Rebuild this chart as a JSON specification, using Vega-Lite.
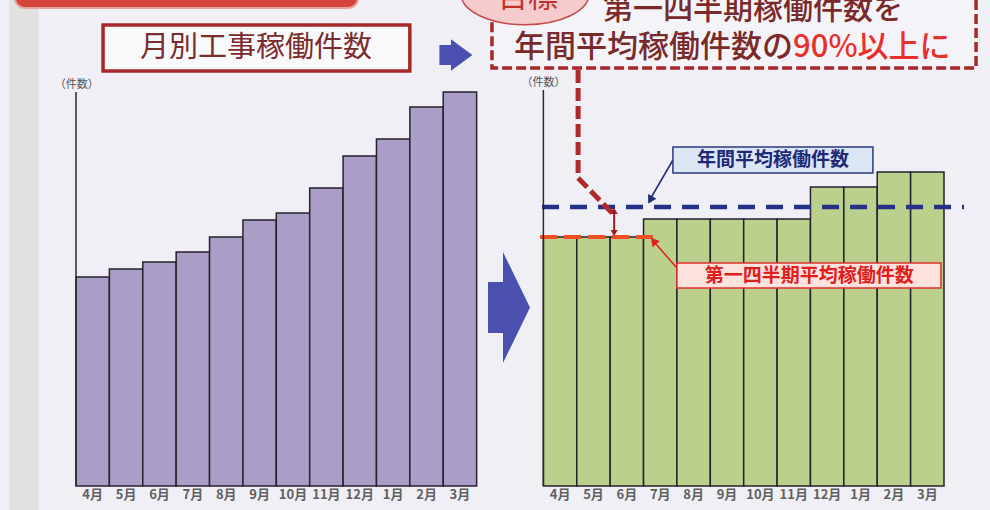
{
  "$schema": "https://vega.github.io/schema/vega-lite/v6.json",
  "width": 868,
  "height": 394,
  "autosize": {"type": "none"},
  "padding": {"left": 76, "top": 92, "right": 46, "bottom": 24},
  "background": "#efeff5",
  "config": {"view": {"stroke": null}, "font": "Noto Sans CJK JP"},
  "datasets": {
    "bars": [
      {"key": "L:4月", "panel": "left", "value": 209},
      {"key": "L:5月", "panel": "left", "value": 217},
      {"key": "L:6月", "panel": "left", "value": 224},
      {"key": "L:7月", "panel": "left", "value": 234},
      {"key": "L:8月", "panel": "left", "value": 249},
      {"key": "L:9月", "panel": "left", "value": 266},
      {"key": "L:10月", "panel": "left", "value": 273},
      {"key": "L:11月", "panel": "left", "value": 298},
      {"key": "L:12月", "panel": "left", "value": 330},
      {"key": "L:1月", "panel": "left", "value": 347},
      {"key": "L:2月", "panel": "left", "value": 379},
      {"key": "L:3月", "panel": "left", "value": 394},
      {"key": "R:4月", "panel": "right", "value": 249},
      {"key": "R:5月", "panel": "right", "value": 249},
      {"key": "R:6月", "panel": "right", "value": 249},
      {"key": "R:7月", "panel": "right", "value": 267},
      {"key": "R:8月", "panel": "right", "value": 267},
      {"key": "R:9月", "panel": "right", "value": 267},
      {"key": "R:10月", "panel": "right", "value": 267},
      {"key": "R:11月", "panel": "right", "value": 267},
      {"key": "R:12月", "panel": "right", "value": 299},
      {"key": "R:1月", "panel": "right", "value": 299},
      {"key": "R:2月", "panel": "right", "value": 314},
      {"key": "R:3月", "panel": "right", "value": 314}
    ],
    "strip": [{"x": -2.0, "x2": -1.12, "y": -40, "y2": 520}],
    "banner": [{"x": -1.83, "x2": 8.45, "y": 478, "y2": 520}],
    "titlebox": [{"x": 0.81, "x2": 10.0, "y": 415, "y2": 461}],
    "titletext": [{"x": 5.39, "y": 438, "t": "月別工事稼働件数"}],
    "smallarrow": [{"x": 11.38, "y": 431}],
    "goalbox": [{"x": 12.46, "x2": 26.96, "y": 418, "y2": 520}],
    "goalellipse": [{"x": 13.45, "y": 492}],
    "goaltext": [{"x": 13.54, "y": 479, "t": "目標"}],
    "headline1": [{"x": 20.28, "y": 476, "t": "第一四半期稼働件数を"}],
    "headline2a": [{"x": 21.48, "y": 438, "t": "年間平均稼働件数の"}],
    "headline2b": [{"x": 21.48, "y": 438, "t": "90%以上に"}],
    "callout": [
      {"x": 15.04, "y": 416, "o": 1},
      {"x": 15.04, "y": 308, "o": 2},
      {"x": 16.06, "y": 273, "o": 3}
    ],
    "annualline": [{"x": 13.96, "x2": 26.6, "y": 279}],
    "q1line": [{"x": 13.9, "x2": 17.34, "y": 249}],
    "gaprule": [{"x": 16.12, "y": 252, "y2": 276}],
    "gaptop": [{"x": 16.12, "y": 275}],
    "gapbottom": [{"x": 16.12, "y": 253}],
    "annualbox": [{"x": 17.88, "x2": 23.87, "y": 313, "y2": 339}],
    "annualtext": [{"x": 20.88, "y": 326, "t": "年間平均稼働件数"}],
    "annualarrow": [
      {"x": 17.88, "y": 326, "o": 1},
      {"x": 17.22, "y": 288, "o": 2}
    ],
    "annualhead": [{"x": 17.2, "y": 286}],
    "q1box": [{"x": 18.0, "x2": 25.91, "y": 198, "y2": 223}],
    "q1text": [{"x": 21.96, "y": 210.5, "t": "第一四半期平均稼働件数"}],
    "q1arrow": [
      {"x": 18.0, "y": 218, "o": 1},
      {"x": 17.32, "y": 244, "o": 2}
    ],
    "q1head": [{"x": 17.3, "y": 245}],
    "axes": [{"x": 0, "y": 0, "y2": 394}, {"x": 14, "y": 0, "y2": 396}],
    "units": [{"x": 0.02, "y": 401, "t": "（件数）"}, {"x": 14.0, "y": 403, "t": "（件数）"}],
    "bigarrow": [{"x": 12.97, "y": 178.5}]
  },
  "layer": [
    {
      "data": {"name": "bars"},
      "mark": {"type": "bar", "stroke": "#26222e", "strokeWidth": 1.5},
      "encoding": {
        "x": {
          "field": "key",
          "type": "ordinal",
          "scale": {
            "domain": ["L:4月", "L:5月", "L:6月", "L:7月", "L:8月", "L:9月", "L:10月", "L:11月", "L:12月", "L:1月", "L:2月", "L:3月", "gap1", "gap2", "R:4月", "R:5月", "R:6月", "R:7月", "R:8月", "R:9月", "R:10月", "R:11月", "R:12月", "R:1月", "R:2月", "R:3月"],
            "paddingInner": 0,
            "paddingOuter": 0
          },
          "axis": {
            "title": null,
            "ticks": false,
            "domain": false,
            "labelAngle": 0,
            "labelOverlap": false,
            "labelExpr": "indexof(datum.value, ':') > 0 ? split(datum.value, ':')[1] : ''",
            "labelFontSize": 13,
            "labelFontWeight": "bold",
            "labelColor": "#606060",
            "labelPadding": 2
          }
        },
        "y": {"field": "value", "type": "quantitative", "scale": {"domain": [0, 394], "nice": false}, "axis": null},
        "color": {"field": "panel", "type": "nominal", "scale": {"domain": ["left", "right"], "range": ["#ab9ec6", "#bcd08e"]}, "legend": null}
      }
    },
    {
      "layer": [
        {
          "data": {"name": "strip"},
          "mark": {"type": "rect", "fill": "#dddbd9", "opacity": 0.7},
          "encoding": {
            "x": {"field": "x", "type": "quantitative", "scale": {"domain": [0, 26], "nice": false, "zero": false}, "axis": null},
            "x2": {"field": "x2"},
            "y": {"field": "y", "type": "quantitative", "scale": {"domain": [0, 394], "nice": false}, "axis": null},
            "y2": {"field": "y2"}
          }
        },
        {
          "data": {"name": "banner"},
          "mark": {"type": "rect", "fill": "#d6433d", "stroke": "#e8a39b", "strokeWidth": 2, "cornerRadius": 10},
          "encoding": {
            "x": {"field": "x", "type": "quantitative", "scale": {"domain": [0, 26], "nice": false, "zero": false}, "axis": null},
            "x2": {"field": "x2"},
            "y": {"field": "y", "type": "quantitative", "scale": {"domain": [0, 394], "nice": false}, "axis": null},
            "y2": {"field": "y2"}
          }
        },
        {
          "data": {"name": "titlebox"},
          "mark": {"type": "rect", "fill": "#f9f9fb", "stroke": "#a8282a", "strokeWidth": 3.5},
          "encoding": {
            "x": {"field": "x", "type": "quantitative", "scale": {"domain": [0, 26], "nice": false, "zero": false}, "axis": null},
            "x2": {"field": "x2"},
            "y": {"field": "y", "type": "quantitative", "scale": {"domain": [0, 394], "nice": false}, "axis": null},
            "y2": {"field": "y2"}
          }
        },
        {
          "data": {"name": "titletext"},
          "mark": {"type": "text", "fontSize": 29, "color": "#7a2b2b", "align": "center", "baseline": "middle", "font": "Noto Sans CJK JP"},
          "encoding": {
            "x": {"field": "x", "type": "quantitative", "scale": {"domain": [0, 26], "nice": false, "zero": false}, "axis": null},
            "y": {"field": "y", "type": "quantitative", "scale": {"domain": [0, 394], "nice": false}, "axis": null},
            "text": {"field": "t"}
          }
        },
        {
          "data": {"name": "smallarrow"},
          "mark": {"type": "point", "filled": true, "color": "#4a4fb0", "opacity": 1, "size": 1089, "shape": "M -1 -0.6 L -0.3 -0.6 L -0.3 -0.95 L 1 0 L -0.3 0.95 L -0.3 0.6 L -1 0.6 Z"},
          "encoding": {
            "x": {"field": "x", "type": "quantitative", "scale": {"domain": [0, 26], "nice": false, "zero": false}, "axis": null},
            "y": {"field": "y", "type": "quantitative", "scale": {"domain": [0, 394], "nice": false}, "axis": null}
          }
        },
        {
          "data": {"name": "goalbox"},
          "mark": {"type": "rect", "fill": "#f4f4f8", "stroke": "#a8282a", "strokeWidth": 3.5, "strokeDash": [10, 4]},
          "encoding": {
            "x": {"field": "x", "type": "quantitative", "scale": {"domain": [0, 26], "nice": false, "zero": false}, "axis": null},
            "x2": {"field": "x2"},
            "y": {"field": "y", "type": "quantitative", "scale": {"domain": [0, 394], "nice": false}, "axis": null},
            "y2": {"field": "y2"}
          }
        },
        {
          "data": {"name": "goalellipse"},
          "mark": {"type": "point", "filled": true, "fill": "#f6cbcb", "stroke": "#c44a48", "strokeWidth": 1.5, "opacity": 1, "size": 16384, "shape": "M -1 0 A 1 0.48 0 1 1 1 0 A 1 0.48 0 1 1 -1 0 Z"},
          "encoding": {
            "x": {"field": "x", "type": "quantitative", "scale": {"domain": [0, 26], "nice": false, "zero": false}, "axis": null},
            "y": {"field": "y", "type": "quantitative", "scale": {"domain": [0, 394], "nice": false}, "axis": null}
          }
        },
        {
          "data": {"name": "goaltext"},
          "mark": {"type": "text", "fontSize": 30, "color": "#c0302e", "align": "center", "baseline": "alphabetic"},
          "encoding": {
            "x": {"field": "x", "type": "quantitative", "scale": {"domain": [0, 26], "nice": false, "zero": false}, "axis": null},
            "y": {"field": "y", "type": "quantitative", "scale": {"domain": [0, 394], "nice": false}, "axis": null},
            "text": {"field": "t"}
          }
        },
        {
          "data": {"name": "headline1"},
          "mark": {"type": "text", "fontSize": 30, "fontWeight": 500, "color": "#7a2a2a", "align": "center", "baseline": "middle"},
          "encoding": {
            "x": {"field": "x", "type": "quantitative", "scale": {"domain": [0, 26], "nice": false, "zero": false}, "axis": null},
            "y": {"field": "y", "type": "quantitative", "scale": {"domain": [0, 394], "nice": false}, "axis": null},
            "text": {"field": "t"}
          }
        },
        {
          "data": {"name": "headline2a"},
          "mark": {"type": "text", "fontSize": 31, "fontWeight": 500, "color": "#7a2a2a", "align": "right", "baseline": "middle"},
          "encoding": {
            "x": {"field": "x", "type": "quantitative", "scale": {"domain": [0, 26], "nice": false, "zero": false}, "axis": null},
            "y": {"field": "y", "type": "quantitative", "scale": {"domain": [0, 394], "nice": false}, "axis": null},
            "text": {"field": "t"}
          }
        },
        {
          "data": {"name": "headline2b"},
          "mark": {"type": "text", "fontSize": 31, "fontWeight": 500, "color": "#e8302c", "align": "left", "baseline": "middle"},
          "encoding": {
            "x": {"field": "x", "type": "quantitative", "scale": {"domain": [0, 26], "nice": false, "zero": false}, "axis": null},
            "y": {"field": "y", "type": "quantitative", "scale": {"domain": [0, 394], "nice": false}, "axis": null},
            "text": {"field": "t"}
          }
        },
        {
          "data": {"name": "annualline"},
          "mark": {"type": "rule", "color": "#263087", "strokeWidth": 4.5, "strokeDash": [17, 11]},
          "encoding": {
            "x": {"field": "x", "type": "quantitative", "scale": {"domain": [0, 26], "nice": false, "zero": false}, "axis": null},
            "x2": {"field": "x2"},
            "y": {"field": "y", "type": "quantitative", "scale": {"domain": [0, 394], "nice": false}, "axis": null}
          }
        },
        {
          "data": {"name": "q1line"},
          "mark": {"type": "rule", "color": "#ec4e26", "strokeWidth": 4, "strokeDash": [17, 7]},
          "encoding": {
            "x": {"field": "x", "type": "quantitative", "scale": {"domain": [0, 26], "nice": false, "zero": false}, "axis": null},
            "x2": {"field": "x2"},
            "y": {"field": "y", "type": "quantitative", "scale": {"domain": [0, 394], "nice": false}, "axis": null}
          }
        },
        {
          "data": {"name": "callout"},
          "mark": {"type": "line", "color": "#b02a2a", "strokeWidth": 5, "strokeDash": [13, 5]},
          "encoding": {
            "x": {"field": "x", "type": "quantitative", "scale": {"domain": [0, 26], "nice": false, "zero": false}, "axis": null},
            "y": {"field": "y", "type": "quantitative", "scale": {"domain": [0, 394], "nice": false}, "axis": null},
            "order": {"field": "o"}
          }
        },
        {
          "data": {"name": "gaprule"},
          "mark": {"type": "rule", "color": "#a01c1c", "strokeWidth": 2},
          "encoding": {
            "x": {"field": "x", "type": "quantitative", "scale": {"domain": [0, 26], "nice": false, "zero": false}, "axis": null},
            "y": {"field": "y", "type": "quantitative", "scale": {"domain": [0, 394], "nice": false}, "axis": null},
            "y2": {"field": "y2"}
          }
        },
        {
          "data": {"name": "gaptop"},
          "mark": {"type": "point", "shape": "triangle-up", "filled": true, "color": "#a01c1c", "opacity": 1, "size": 50, "angle": 0},
          "encoding": {
            "x": {"field": "x", "type": "quantitative", "scale": {"domain": [0, 26], "nice": false, "zero": false}, "axis": null},
            "y": {"field": "y", "type": "quantitative", "scale": {"domain": [0, 394], "nice": false}, "axis": null}
          }
        },
        {
          "data": {"name": "gapbottom"},
          "mark": {"type": "point", "shape": "triangle-up", "filled": true, "color": "#a01c1c", "opacity": 1, "size": 50, "angle": 180},
          "encoding": {
            "x": {"field": "x", "type": "quantitative", "scale": {"domain": [0, 26], "nice": false, "zero": false}, "axis": null},
            "y": {"field": "y", "type": "quantitative", "scale": {"domain": [0, 394], "nice": false}, "axis": null}
          }
        },
        {
          "data": {"name": "annualarrow"},
          "mark": {"type": "line", "color": "#1e2a78", "strokeWidth": 1.5},
          "encoding": {
            "x": {"field": "x", "type": "quantitative", "scale": {"domain": [0, 26], "nice": false, "zero": false}, "axis": null},
            "y": {"field": "y", "type": "quantitative", "scale": {"domain": [0, 394], "nice": false}, "axis": null},
            "order": {"field": "o"}
          }
        },
        {
          "data": {"name": "annualhead"},
          "mark": {"type": "point", "shape": "triangle-up", "filled": true, "color": "#1e2a78", "opacity": 1, "size": 90, "angle": 209},
          "encoding": {
            "x": {"field": "x", "type": "quantitative", "scale": {"domain": [0, 26], "nice": false, "zero": false}, "axis": null},
            "y": {"field": "y", "type": "quantitative", "scale": {"domain": [0, 394], "nice": false}, "axis": null}
          }
        },
        {
          "data": {"name": "annualbox"},
          "mark": {"type": "rect", "fill": "#dce5f3", "stroke": "#2a3a80", "strokeWidth": 1.5},
          "encoding": {
            "x": {"field": "x", "type": "quantitative", "scale": {"domain": [0, 26], "nice": false, "zero": false}, "axis": null},
            "x2": {"field": "x2"},
            "y": {"field": "y", "type": "quantitative", "scale": {"domain": [0, 394], "nice": false}, "axis": null},
            "y2": {"field": "y2"}
          }
        },
        {
          "data": {"name": "annualtext"},
          "mark": {"type": "text", "fontSize": 19, "fontWeight": "bold", "color": "#1e2a78", "align": "center", "baseline": "middle"},
          "encoding": {
            "x": {"field": "x", "type": "quantitative", "scale": {"domain": [0, 26], "nice": false, "zero": false}, "axis": null},
            "y": {"field": "y", "type": "quantitative", "scale": {"domain": [0, 394], "nice": false}, "axis": null},
            "text": {"field": "t"}
          }
        },
        {
          "data": {"name": "q1arrow"},
          "mark": {"type": "line", "color": "#e0201c", "strokeWidth": 1.5},
          "encoding": {
            "x": {"field": "x", "type": "quantitative", "scale": {"domain": [0, 26], "nice": false, "zero": false}, "axis": null},
            "y": {"field": "y", "type": "quantitative", "scale": {"domain": [0, 394], "nice": false}, "axis": null},
            "order": {"field": "o"}
          }
        },
        {
          "data": {"name": "q1head"},
          "mark": {"type": "point", "shape": "triangle-up", "filled": true, "color": "#e0201c", "opacity": 1, "size": 90, "angle": 319},
          "encoding": {
            "x": {"field": "x", "type": "quantitative", "scale": {"domain": [0, 26], "nice": false, "zero": false}, "axis": null},
            "y": {"field": "y", "type": "quantitative", "scale": {"domain": [0, 394], "nice": false}, "axis": null}
          }
        },
        {
          "data": {"name": "q1box"},
          "mark": {"type": "rect", "fill": "#fde2de", "stroke": "#e0302c", "strokeWidth": 1.5},
          "encoding": {
            "x": {"field": "x", "type": "quantitative", "scale": {"domain": [0, 26], "nice": false, "zero": false}, "axis": null},
            "x2": {"field": "x2"},
            "y": {"field": "y", "type": "quantitative", "scale": {"domain": [0, 394], "nice": false}, "axis": null},
            "y2": {"field": "y2"}
          }
        },
        {
          "data": {"name": "q1text"},
          "mark": {"type": "text", "fontSize": 19, "fontWeight": "bold", "color": "#e0201c", "align": "center", "baseline": "middle"},
          "encoding": {
            "x": {"field": "x", "type": "quantitative", "scale": {"domain": [0, 26], "nice": false, "zero": false}, "axis": null},
            "y": {"field": "y", "type": "quantitative", "scale": {"domain": [0, 394], "nice": false}, "axis": null},
            "text": {"field": "t"}
          }
        },
        {
          "data": {"name": "axes"},
          "mark": {"type": "rule", "color": "#2a2a2a", "strokeWidth": 1.5},
          "encoding": {
            "x": {"field": "x", "type": "quantitative", "scale": {"domain": [0, 26], "nice": false, "zero": false}, "axis": null},
            "y": {"field": "y", "type": "quantitative", "scale": {"domain": [0, 394], "nice": false}, "axis": null},
            "y2": {"field": "y2"}
          }
        },
        {
          "data": {"name": "units"},
          "mark": {"type": "text", "fontSize": 11, "color": "#555555", "align": "center", "baseline": "middle"},
          "encoding": {
            "x": {"field": "x", "type": "quantitative", "scale": {"domain": [0, 26], "nice": false, "zero": false}, "axis": null},
            "y": {"field": "y", "type": "quantitative", "scale": {"domain": [0, 394], "nice": false}, "axis": null},
            "text": {"field": "t"}
          }
        },
        {
          "data": {"name": "bigarrow"},
          "mark": {"type": "point", "filled": true, "color": "#4b4fae", "opacity": 1, "size": 12321, "shape": "M -0.378 -0.46 L -0.108 -0.46 L -0.108 -1 L 0.378 0 L -0.108 1 L -0.108 0.46 L -0.378 0.46 Z"},
          "encoding": {
            "x": {"field": "x", "type": "quantitative", "scale": {"domain": [0, 26], "nice": false, "zero": false}, "axis": null},
            "y": {"field": "y", "type": "quantitative", "scale": {"domain": [0, 394], "nice": false}, "axis": null}
          }
        }
      ]
    }
  ],
  "resolve": {"scale": {"x": "independent"}}
}
